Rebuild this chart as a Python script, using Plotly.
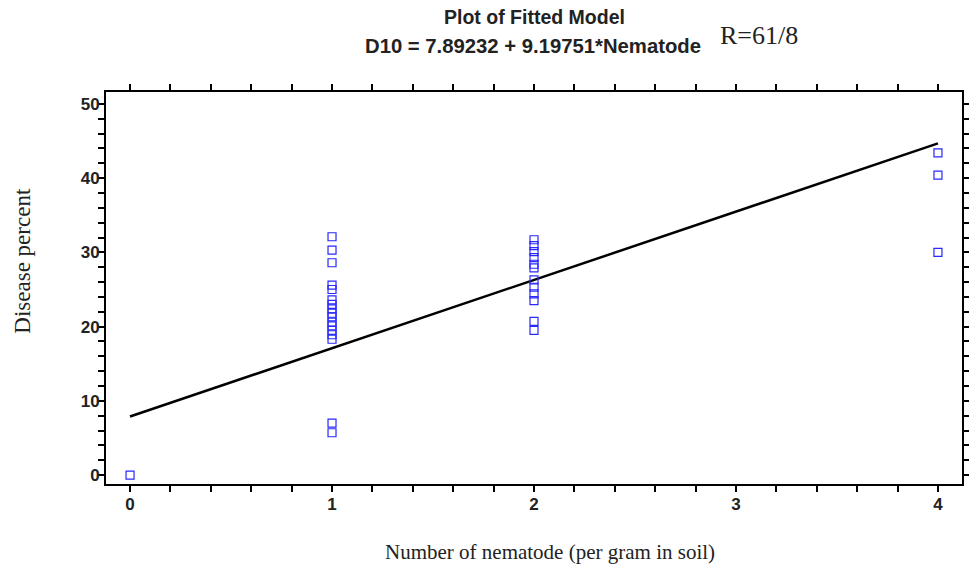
import plotly.graph_objects as go

# Observed disease percent at each nematode density
nematode = [0] + [1] * 17 + [2] * 12 + [4] * 3
disease = [0.0,
           32.1, 30.3, 28.6, 25.6, 25.0, 23.6, 23.0, 22.4, 21.8, 21.3, 20.6, 20.1, 19.5, 18.9, 18.3, 7.0, 5.7,
           31.7, 30.9, 30.1, 29.3, 28.4, 27.9, 26.3, 25.3, 24.4, 23.5, 20.7, 19.5,
           43.4, 40.4, 30.0]

# Fitted linear model D10 = a + b * Nematode
intercept = 7.89232
slope = 9.19751
fit_x = [0, 4]
fit_y = [intercept + slope * v for v in fit_x]

x_ticks = [0, 1, 2, 3, 4]
y_ticks = [0, 10, 20, 30, 40, 50]

fig = go.Figure()
fig.add_trace(go.Scatter(
    x=fit_x, y=fit_y, mode="lines",
    line=dict(color="black", width=2.5), showlegend=False))
fig.add_trace(go.Scatter(
    x=nematode, y=disease, mode="markers",
    marker=dict(symbol="square-open", size=8, color="rgb(40,40,255)",
                line=dict(width=1.2, color="rgb(40,40,255)")),
    showlegend=False))

tick_font = dict(family="Liberation Sans, Arial", size=17, color="#222", weight="bold")
axis_common = dict(
    showline=True, linecolor="black", linewidth=2, mirror="allticks",
    ticks="outside", ticklen=6, tickwidth=2, tickcolor="black",
    showgrid=False, zeroline=False, tickfont=tick_font, automargin=False,
)
fig.update_xaxes(range=[-0.119, 4.119], tickvals=x_ticks,
                 minor=dict(dtick=0.2, ticks="outside", ticklen=6, tickwidth=2, tickcolor="black"),
                 ticklabelstandoff=-2, **axis_common)
fig.update_yaxes(range=[-1.2, 51.6], tickvals=y_ticks,
                 minor=dict(dtick=2, ticks="outside", ticklen=6, tickwidth=2, tickcolor="black"),
                 ticklabelstandoff=-5, **axis_common)

annotations = [
    dict(text="<b>Plot of Fitted Model</b>", x=0.5005, y=1.191,
         font=dict(family="Liberation Sans, Arial", size=19.5, color="#222")),
    dict(text="<b>D10 = 7.89232 + 9.19751*Nematode</b>", x=0.4985, y=1.117,
         font=dict(family="Liberation Sans, Arial", size=20.3, color="#222")),
    dict(text="R=61/8", x=0.7155, y=1.143, xanchor="left",
         font=dict(family="Liberation Serif, Times New Roman", size=26, color="#222")),
    dict(text="Number of nematode (per gram in soil)", x=0.5185, y=-0.173,
         font=dict(family="Liberation Serif, Times New Roman", size=21, color="#222")),
    dict(text="Disease percent", x=-0.098, y=0.57, textangle=-90,
         font=dict(family="Liberation Serif, Times New Roman", size=23, color="#222")),
]
for a in annotations:
    a.setdefault("xanchor", "center")
    a.update(xref="paper", yref="paper", yanchor="middle", showarrow=False)

fig.update_layout(
    width=969, height=568,
    margin=dict(l=106, r=7, t=92, b=84),
    paper_bgcolor="white", plot_bgcolor="white",
    annotations=annotations,
)

fig.write_html("out.html")
